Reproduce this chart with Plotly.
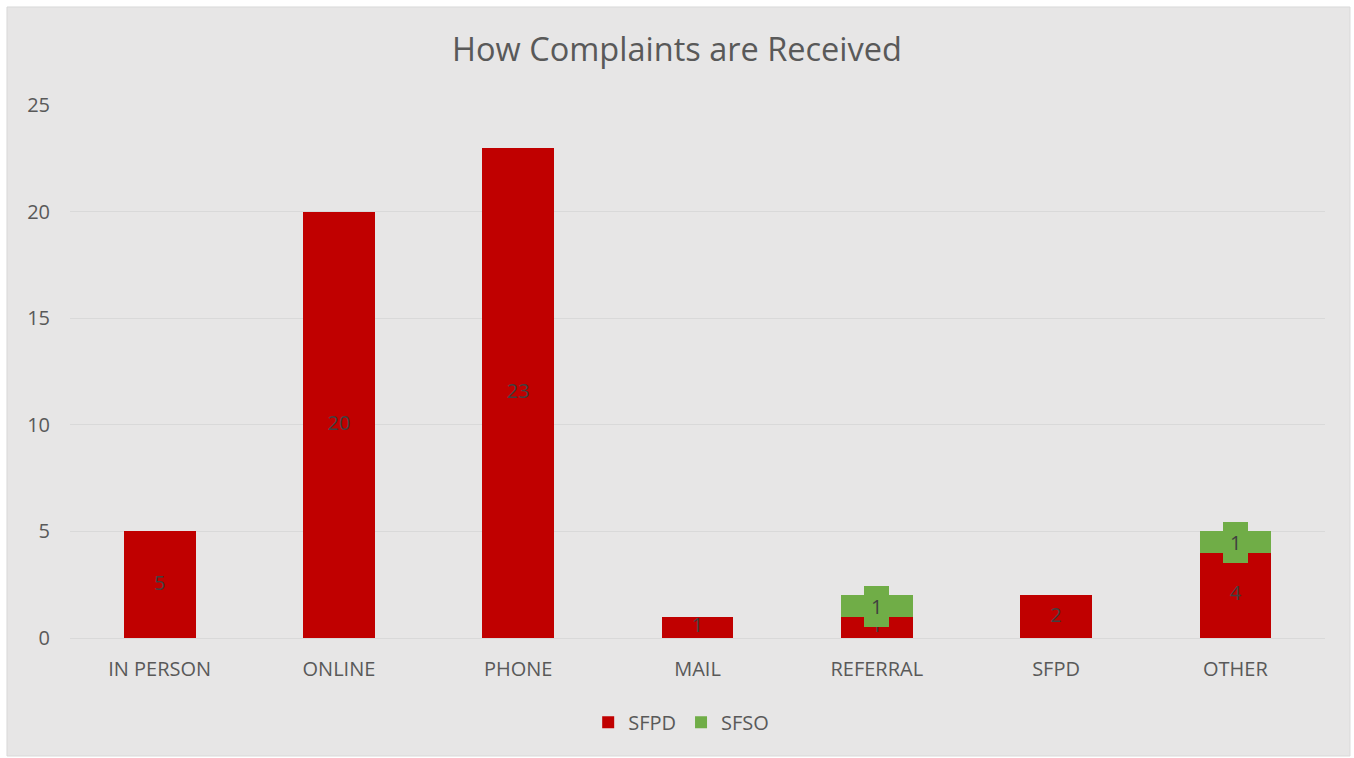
import plotly.graph_objects as go

categories = ["IN PERSON", "ONLINE", "PHONE", "MAIL", "REFERRAL", "SFPD", "OTHER"]
sfpd = [5, 20, 23, 1, 1, 2, 4]
sfso = [0, 0, 0, 0, 1, 0, 1]
y_ticks = [0, 5, 10, 15, 20, 25]

RED = "#c00000"
GREEN = "#70ad47"
BG = "#e7e6e6"
TXT = "#595959"
LBL = "#404040"
FONT = "Open Sans, sans-serif"

fig = go.Figure()
fig.add_trace(go.Bar(x=categories, y=sfpd, name="SFPD", marker=dict(color=RED, line=dict(width=0))))
fig.add_trace(go.Bar(x=categories, y=sfso, name="SFSO", marker=dict(color=GREEN, line=dict(width=0))))

# SFPD data labels (centered in segment)
fig.add_trace(go.Scatter(
    x=categories, y=[v / 2 for v in sfpd], mode="text",
    text=[str(v) for v in sfpd], textposition="middle center",
    textfont=dict(size=20, color=LBL, family=FONT),
    showlegend=False, hoverinfo="skip"))

# SFSO data labels with green boxes
for c, a, b in zip(categories, sfpd, sfso):
    if b:
        fig.add_annotation(x=c, y=a + b / 2, text=str(b), showarrow=False,
                           font=dict(size=20, color=LBL, family=FONT),
                           bgcolor=GREEN, borderpad=7, borderwidth=0,
                           xanchor="center", yanchor="middle")

# chart area background with border
fig.add_shape(type="rect", xref="paper", yref="paper",
              x0=-0.0502, x1=1.0199, y0=-0.2214, y1=1.1839,
              fillcolor=BG, line=dict(color="#d9d9d9", width=1), layer="below")

fig.update_layout(
    width=1354, height=758,
    barmode="stack", bargap=0.6,
    paper_bgcolor="white", plot_bgcolor=BG,
    margin=dict(l=70, r=29, t=105, b=120),
    font=dict(family=FONT, color=TXT, size=20),
    title=dict(text="How Complaints are Received", x=0.5, xanchor="center",
               y=1 - 50 / 758, yanchor="middle",
               font=dict(size=32.5, color=TXT, family=FONT)),
    legend=dict(orientation="h", x=0.487, xanchor="center", y=-0.158, yanchor="middle",
                font=dict(size=20, color=TXT, family=FONT), bgcolor="rgba(0,0,0,0)",
                traceorder="normal", itemwidth=30, tracegroupgap=0),
    showlegend=True,
)
fig.update_xaxes(showgrid=False, showline=False, ticks="", ticklabelstandoff=17,
                 tickfont=dict(size=20, color=TXT, family=FONT))
fig.update_yaxes(range=[0, 25], tickvals=y_ticks, showgrid=True, gridcolor="#d9d9d9",
                 gridwidth=1, zeroline=True, zerolinecolor="#d9d9d9", zerolinewidth=1,
                 showline=False, ticks="", ticklabelstandoff=19,
                 tickfont=dict(size=20, color=TXT, family=FONT))

fig.write_html("out.html", config={"displayModeBar": False},
               post_script="document.body.style.margin='0';")
